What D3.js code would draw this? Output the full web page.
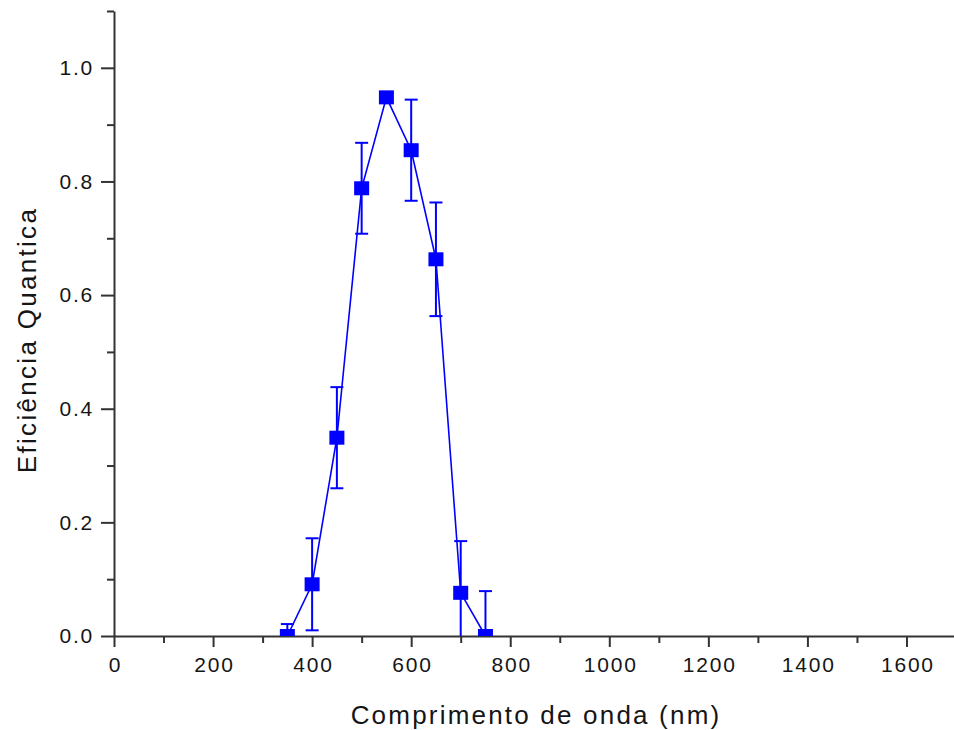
<!DOCTYPE html>
<html>
<head>
<meta charset="utf-8">
<script src="https://cdn.jsdelivr.net/npm/d3@7"></script>
<style>
  html, body { margin: 0; padding: 0; background: #fff; }
  svg { display: block; }
  text { font-family: "Liberation Sans", Arial, sans-serif; }
</style>
</head>
<body>
<svg id="chart" width="954" height="730"></svg>
<script>
// ---- data ----
const wavelengths = [350, 400, 450, 500, 550, 600, 650, 700, 750];
const efficiency  = [0.000, 0.091, 0.349, 0.788, 0.948, 0.855, 0.663, 0.076, 0.000];
const errors      = [0.021, 0.081, 0.089, 0.080, 0.000, 0.089, 0.100, 0.091, 0.079];
const xTickValues = [0, 200, 400, 600, 800, 1000, 1200, 1400, 1600];
const yTickValues = [0.0, 0.2, 0.4, 0.6, 0.8, 1.0];
const xMinorTicks = [100, 300, 500, 700, 900, 1100, 1300, 1500, 1700];
const yMinorTicks = [0.1, 0.3, 0.5, 0.7, 0.9, 1.1];
const xTitle = "Comprimento de onda (nm)";
const yTitle = "Eficiência Quantica";

const data = wavelengths.map((w, i) => ({ x: w, y: efficiency[i], e: errors[i] }));

const svg = d3.select("#chart");
const mLeft = 114, mRight = 956, mTop = 11, mBottom = 636;
const x = d3.scaleLinear().domain([0, 1700]).range([mLeft, mRight]);
const y = d3.scaleLinear().domain([0, 1.1]).range([mBottom, mTop]);

const axisColor = "#333";
const textColor = "#151515";
const blue = "#0000ff";

svg.append("defs").append("clipPath").attr("id", "plotclip")
  .append("rect").attr("x", mLeft).attr("y", mTop - 5)
  .attr("width", mRight - mLeft + 5).attr("height", mBottom - mTop + 5);

// minor ticks
svg.append("g").attr("transform", `translate(0,${mBottom})`)
  .call(d3.axisBottom(x).tickValues(xMinorTicks).tickSize(7).tickFormat(""))
  .call(g => g.select(".domain").remove())
  .call(g => g.selectAll("line").attr("stroke", axisColor).attr("stroke-width", 2));
svg.append("g").attr("transform", `translate(${mLeft},0)`)
  .call(d3.axisLeft(y).tickValues(yMinorTicks).tickSize(7).tickFormat(""))
  .call(g => g.select(".domain").remove())
  .call(g => g.selectAll("line").attr("stroke", axisColor).attr("stroke-width", 2));

// major x axis
const gx = svg.append("g").attr("transform", `translate(0,${mBottom})`)
  .call(d3.axisBottom(x).tickValues(xTickValues).tickSize(11).tickPadding(10).tickSizeOuter(0)
    .tickFormat(d3.format("d")));
gx.select(".domain").attr("stroke", axisColor).attr("stroke-width", 2);
gx.selectAll(".tick line").attr("stroke", axisColor).attr("stroke-width", 2);
gx.selectAll(".tick text").attr("fill", textColor).style("font-size", "21px")
  .style("letter-spacing", "1.8px").attr("dx", "0.9px");

// major y axis
const gy = svg.append("g").attr("transform", `translate(${mLeft},0)`)
  .call(d3.axisLeft(y).tickValues(yTickValues).tickSize(13).tickPadding(7).tickSizeOuter(0)
    .tickFormat(d3.format(".1f")));
gy.select(".domain").attr("stroke", axisColor).attr("stroke-width", 2);
gy.selectAll(".tick line").attr("stroke", axisColor).attr("stroke-width", 2);
gy.selectAll(".tick text").attr("fill", textColor).style("font-size", "21px")
  .style("letter-spacing", "1.8px");

// data
const plot = svg.append("g").attr("clip-path", "url(#plotclip)");

plot.append("path").datum(data)
  .attr("fill", "none").attr("stroke", blue).attr("stroke-width", 1.6)
  .attr("d", d3.line().x(d => x(d.x)).y(d => y(d.y)));

const eb = plot.append("g").selectAll("g").data(data.filter(d => d.e > 0)).join("g");
eb.append("line")
  .attr("x1", d => x(d.x)).attr("x2", d => x(d.x))
  .attr("y1", d => y(d.y + d.e)).attr("y2", d => y(d.y - d.e))
  .attr("stroke", blue).attr("stroke-width", 2);
eb.append("line")
  .attr("x1", d => x(d.x) - 6.5).attr("x2", d => x(d.x) + 6.5)
  .attr("y1", d => y(d.y + d.e)).attr("y2", d => y(d.y + d.e))
  .attr("stroke", blue).attr("stroke-width", 2);
eb.append("line")
  .attr("x1", d => x(d.x) - 6.5).attr("x2", d => x(d.x) + 6.5)
  .attr("y1", d => y(d.y - d.e)).attr("y2", d => y(d.y - d.e))
  .attr("stroke", blue).attr("stroke-width", 2);

plot.append("g").selectAll("rect").data(data).join("rect")
  .attr("x", d => x(d.x) - 7.5).attr("y", d => y(d.y) - 7)
  .attr("width", 15).attr("height", 14)
  .attr("fill", blue);

// titles
svg.append("text")
  .attr("x", 536).attr("y", 724)
  .attr("text-anchor", "middle")
  .attr("fill", textColor)
  .style("font-size", "26px").style("letter-spacing", "2.2px")
  .text(xTitle);

svg.append("text")
  .attr("transform", "translate(36,340) rotate(-90)")
  .attr("text-anchor", "middle")
  .attr("fill", textColor)
  .style("font-size", "26px").style("letter-spacing", "2.3px")
  .text(yTitle);
</script>
</body>
</html>
